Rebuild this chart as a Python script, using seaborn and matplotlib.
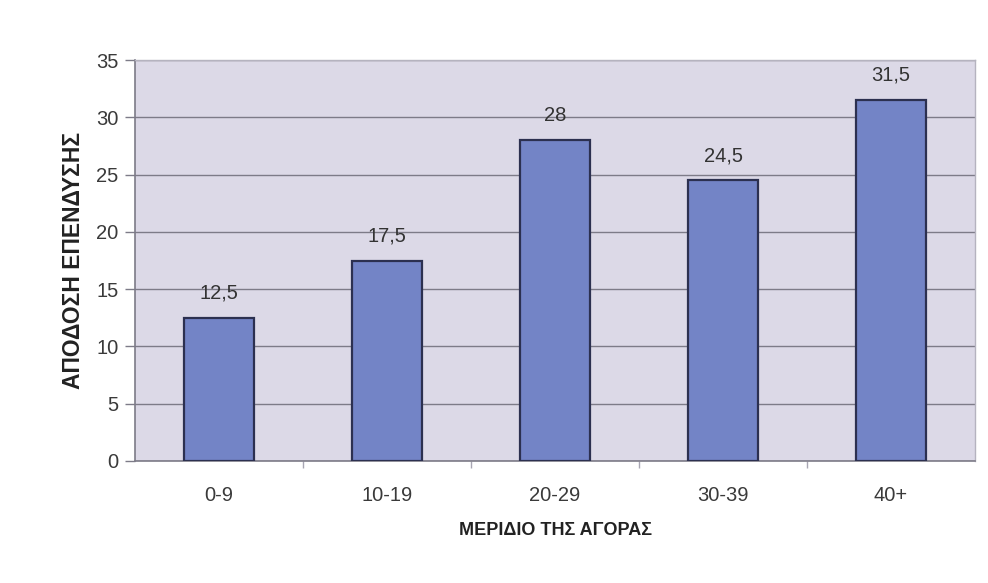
import matplotlib
matplotlib.use("Agg")
import matplotlib.pyplot as plt
import seaborn as sns
import pandas as pd

categories = ["0-9", "10-19", "20-29", "30-39", "40+"]
values = [12.5, 17.5, 28, 24.5, 31.5]
value_labels = ["12,5", "17,5", "28", "24,5", "31,5"]
y_ticks = [0, 5, 10, 15, 20, 25, 30, 35]
x_title = "ΜΕΡΙΔΙΟ ΤΗΣ ΑΓΟΡΑΣ"
y_title = "ΑΠΟΔΟΣΗ ΕΠΕΝΔΥΣΗΣ"

df = pd.DataFrame({"cat": categories, "val": values})

sns.set_theme(style="white")
plt.rcParams["font.family"] = ["Liberation Sans", "DejaVu Sans"]

fig = plt.figure(figsize=(9.88, 5.83), dpi=100)
fig.patch.set_facecolor("white")
ax = fig.add_axes([135/988, 1-461/583, 840/988, 401/583])
ax.set_facecolor("#dcd9e7")

sns.barplot(data=df, x="cat", y="val", ax=ax, color="#7384c6",
            saturation=1, width=0.42, edgecolor="#2c3050", linewidth=1.6,
            zorder=3)

ax.set_ylim(0, 35)
ax.set_xlim(-0.5, 4.5)
ax.set_yticks(y_ticks)
ax.set_yticklabels([str(t) for t in y_ticks], fontsize=14.5, color="#3a3a3a")
ax.set_xticks(range(len(categories)))
ax.set_xticklabels(categories, fontsize=14.5, color="#3a3a3a")
ax.yaxis.grid(True, color="#7d7b88", linewidth=1.0, zorder=0)
ax.set_axisbelow(True)

ax.tick_params(axis="y", length=7, width=1, color="#7d7b88", pad=5, left=True)
ax.tick_params(axis="x", length=0, pad=18)
# minor ticks between categories
ax.set_xticks([0.5, 1.5, 2.5, 3.5], minor=True)
ax.tick_params(axis="x", which="minor", length=5, width=1, color="#a8a6b3", bottom=True)

for s in ["top", "right"]:
    ax.spines[s].set_color("#b5b3bf")
    ax.spines[s].set_linewidth(1.0)
for s in ["left", "bottom"]:
    ax.spines[s].set_color("#7d7b88")
    ax.spines[s].set_linewidth(1.2)

for i, (v, lab) in enumerate(zip(values, value_labels)):
    ax.annotate(lab, (i, v), xytext=(0, 11), textcoords="offset points",
                ha="center", va="bottom", fontsize=14.5, color="#333333")

ax.set_xlabel(x_title, fontsize=13, fontweight="bold", color="#222222", labelpad=12)
ax.set_ylabel(y_title, fontsize=16.5, fontweight="bold", color="#222222", labelpad=8)

fig.savefig("out.png", dpi=100)
